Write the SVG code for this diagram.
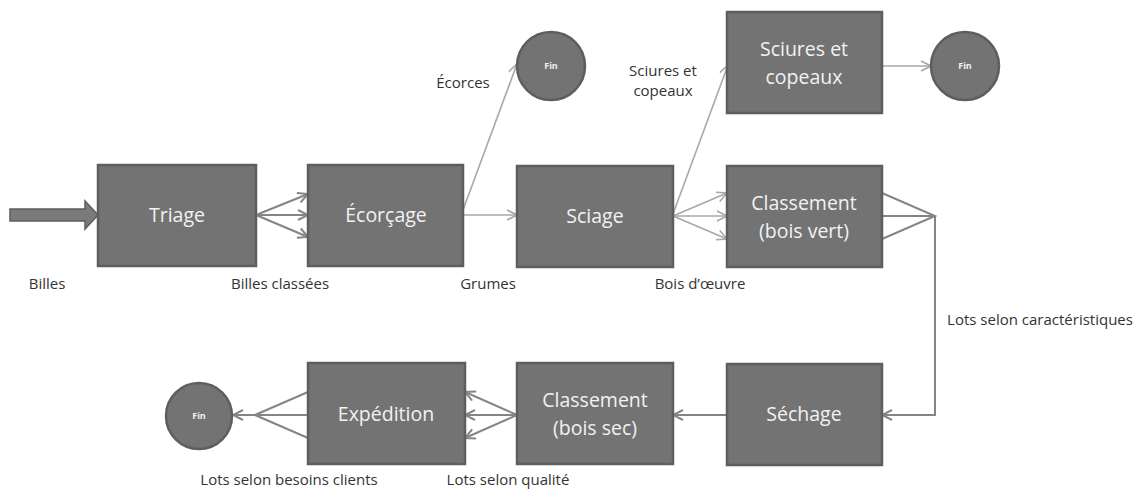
<svg xmlns="http://www.w3.org/2000/svg" width="1141" height="492" viewBox="0 0 1141 492">
  <defs>
    <style>
      .box { fill: #737373; stroke: #5e5e5e; stroke-width: 2.5; }
      .node-text { fill: #f2f2f2; font-family: "Open Sans", "Liberation Sans", sans-serif; font-size: 19.5px; text-anchor: middle; }
      .fin-text { fill: #f2f2f2; font-family: "Open Sans", "Liberation Sans", sans-serif; font-size: 9px; font-weight: bold; text-anchor: middle; }
      .label { fill: #333333; font-family: "Open Sans", "Liberation Sans", sans-serif; font-size: 15px; text-anchor: middle; }
      .dark { fill: none; stroke: #858585; stroke-width: 2; }
      .light { fill: none; stroke: #a8a8a8; stroke-width: 1.6; }
    </style>
    <marker id="arrowDark" viewBox="0 0 12 12" refX="11" refY="6" markerWidth="12" markerHeight="12" markerUnits="userSpaceOnUse" orient="auto">
      <path d="M1,1 L11,6 L1,11" fill="none" stroke="#858585" stroke-width="2"/>
    </marker>
    <marker id="arrowLight" viewBox="0 0 12 12" refX="11" refY="6" markerWidth="12" markerHeight="12" markerUnits="userSpaceOnUse" orient="auto">
      <path d="M1,1 L11,6 L1,11" fill="none" stroke="#a8a8a8" stroke-width="1.6"/>
    </marker>
  </defs>

  <rect width="1141" height="492" fill="#ffffff"/>

  <!-- connectors -->
  <g id="connectors">
    <!-- incoming logs: block arrow -->
    <path d="M10,209 L85,209 L85,201 L98,215 L85,229 L85,221 L10,221 Z" fill="#7a7a7a" stroke="#5e5e5e" stroke-width="1.5"/>

    <!-- Triage to Écorçage -->
    <line class="dark" x1="256" y1="215" x2="308" y2="194" marker-end="url(#arrowDark)"/>
    <line class="dark" x1="256" y1="215" x2="308" y2="215" marker-end="url(#arrowDark)"/>
    <line class="dark" x1="256" y1="215" x2="308" y2="237" marker-end="url(#arrowDark)"/>

    <!-- Écorçage outputs -->
    <line class="light" x1="463" y1="210" x2="517" y2="64" marker-end="url(#arrowLight)"/>
    <line class="light" x1="463" y1="215" x2="517" y2="215" marker-end="url(#arrowLight)"/>

    <!-- Sciage outputs -->
    <line class="light" x1="673" y1="214" x2="728" y2="65" marker-end="url(#arrowLight)"/>
    <line class="light" x1="673" y1="216" x2="727" y2="193" marker-end="url(#arrowLight)"/>
    <line class="light" x1="673" y1="216" x2="727" y2="216" marker-end="url(#arrowLight)"/>
    <line class="light" x1="673" y1="216" x2="727" y2="239" marker-end="url(#arrowLight)"/>

    <!-- Sciures et copeaux to end -->
    <line class="light" x1="882" y1="66" x2="931" y2="66" marker-end="url(#arrowLight)"/>

    <!-- Classement (bois vert) to Séchage -->
    <polyline class="dark" points="882,193 935,216 882,239"/>
    <line class="dark" x1="882" y1="216" x2="935" y2="216"/>
    <polyline class="dark" points="935,216 935,415 882,415" marker-end="url(#arrowDark)"/>

    <!-- Séchage to Classement (bois sec) -->
    <line class="dark" x1="727" y1="415" x2="673" y2="415" marker-end="url(#arrowDark)"/>

    <!-- Classement (bois sec) to Expédition -->
    <line class="dark" x1="517" y1="415" x2="465" y2="392" marker-end="url(#arrowDark)"/>
    <line class="dark" x1="517" y1="415" x2="465" y2="415" marker-end="url(#arrowDark)"/>
    <line class="dark" x1="517" y1="415" x2="465" y2="438" marker-end="url(#arrowDark)"/>

    <!-- Expédition to end -->
    <polyline class="dark" points="308,392 255,415 308,438"/>
    <line class="dark" x1="308" y1="415" x2="255" y2="415"/>
    <line class="dark" x1="255" y1="415" x2="233" y2="415" marker-end="url(#arrowDark)"/>
  </g>

  <!-- nodes -->
  <g id="triage">
    <rect class="box" x="98" y="165" width="158" height="101"/>
    <text class="node-text" x="177" y="222">Triage</text>
  </g>
  <g id="ecorcage">
    <rect class="box" x="308" y="165" width="155" height="101"/>
    <text class="node-text" x="386" y="222">Écorçage</text>
  </g>
  <g id="sciage">
    <rect class="box" x="517" y="166" width="156" height="101"/>
    <text class="node-text" x="595" y="223">Sciage</text>
  </g>
  <g id="classement-vert">
    <rect class="box" x="727" y="166" width="155" height="101"/>
    <text class="node-text" x="804" y="210">Classement</text>
    <text class="node-text" x="804" y="238">(bois vert)</text>
  </g>
  <g id="sciures">
    <rect class="box" x="727" y="12" width="155" height="101"/>
    <text class="node-text" x="804" y="56">Sciures et</text>
    <text class="node-text" x="804" y="84">copeaux</text>
  </g>
  <g id="fin-ecorces">
    <circle class="box" cx="551" cy="66" r="34"/>
    <text class="fin-text" x="551" y="69">Fin</text>
  </g>
  <g id="fin-sciures">
    <circle class="box" cx="965" cy="66" r="34"/>
    <text class="fin-text" x="965" y="69">Fin</text>
  </g>
  <g id="sechage">
    <rect class="box" x="727" y="364" width="155" height="101"/>
    <text class="node-text" x="804" y="421">Séchage</text>
  </g>
  <g id="classement-sec">
    <rect class="box" x="517" y="363" width="156" height="101"/>
    <text class="node-text" x="595" y="407">Classement</text>
    <text class="node-text" x="595" y="435">(bois sec)</text>
  </g>
  <g id="expedition">
    <rect class="box" x="308" y="363" width="157" height="101"/>
    <text class="node-text" x="386" y="421">Expédition</text>
  </g>
  <g id="fin-expedition">
    <circle class="box" cx="199" cy="416" r="33"/>
    <text class="fin-text" x="199" y="419">Fin</text>
  </g>

  <!-- flow labels -->
  <g id="labels">
    <text class="label" x="47" y="289">Billes</text>
    <text class="label" x="280" y="289">Billes classées</text>
    <text class="label" x="488" y="289">Grumes</text>
    <text class="label" x="700" y="289">Bois d’œuvre</text>
    <text class="label" x="463" y="88">Écorces</text>
    <text class="label" x="663" y="76">Sciures et</text>
    <text class="label" x="663" y="96">copeaux</text>
    <text class="label" x="1040" y="325">Lots selon caractéristiques</text>
    <text class="label" x="289" y="485">Lots selon besoins clients</text>
    <text class="label" x="508" y="485">Lots selon qualité</text>
  </g>
</svg>
